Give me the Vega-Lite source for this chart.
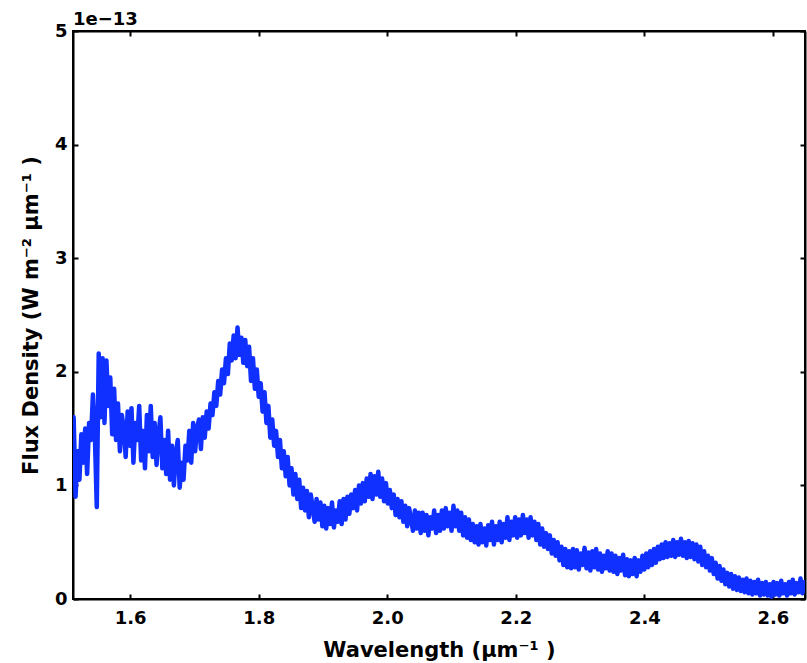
{
  "$schema": "https://vega.github.io/schema/vega-lite/v6.json",
  "width": 732,
  "height": 568,
  "autosize": {"type": "none"},
  "padding": {"left": 73, "top": 31, "right": 2, "bottom": 64},
  "background": "white",
  "title": {"text": "1e−13", "anchor": "start", "frame": "group", "font": "DejaVu Sans", "fontWeight": "bold", "fontSize": 18, "offset": -7, "color": "black"},
  "config": {
    "view": {"stroke": "black", "strokeWidth": 2},
    "axis": {
      "domainColor": "black", "domainWidth": 2, "tickColor": "black", "tickWidth": 2, "tickSize": -5,
      "labelFont": "DejaVu Sans", "labelFontWeight": "bold", "labelFontSize": 18, "labelColor": "black",
      "titleFont": "DejaVu Sans", "titleFontWeight": "bold", "titleFontSize": 21, "titleColor": "black",
      "grid": false
    }
  },
  "data": {"values": [
    {"w":1.512,"f":1.60},{"w":1.515,"f":0.90},{"w":1.518,"f":1.30},{"w":1.521,"f":1.05},{"w":1.524,"f":1.45},{"w":1.527,"f":1.20},{"w":1.530,"f":1.50},{"w":1.533,"f":1.10},{"w":1.536,"f":1.55},{"w":1.539,"f":1.40},
    {"w":1.542,"f":1.80},{"w":1.545,"f":1.45},{"w":1.548,"f":0.81},{"w":1.551,"f":2.16},{"w":1.554,"f":1.60},{"w":1.557,"f":2.12},{"w":1.560,"f":1.55},{"w":1.563,"f":2.10},{"w":1.566,"f":1.70},{"w":1.569,"f":1.95},
    {"w":1.572,"f":1.45},{"w":1.575,"f":1.85},{"w":1.578,"f":1.40},{"w":1.581,"f":1.72},{"w":1.584,"f":1.30},{"w":1.587,"f":1.62},{"w":1.590,"f":1.50},{"w":1.593,"f":1.25},{"w":1.596,"f":1.65},{"w":1.599,"f":1.35},
    {"w":1.602,"f":1.68},{"w":1.605,"f":1.20},{"w":1.608,"f":1.55},{"w":1.611,"f":1.40},{"w":1.614,"f":1.70},{"w":1.617,"f":1.22},{"w":1.620,"f":1.48},{"w":1.623,"f":1.15},{"w":1.626,"f":1.62},{"w":1.629,"f":1.30},
    {"w":1.632,"f":1.70},{"w":1.635,"f":1.25},{"w":1.638,"f":1.55},{"w":1.641,"f":1.18},{"w":1.644,"f":1.45},{"w":1.647,"f":1.60},{"w":1.650,"f":1.15},{"w":1.653,"f":1.40},{"w":1.656,"f":1.10},{"w":1.659,"f":1.48},
    {"w":1.662,"f":1.05},{"w":1.665,"f":1.35},{"w":1.668,"f":1.00},{"w":1.671,"f":1.28},{"w":1.674,"f":1.40},{"w":1.677,"f":0.98},{"w":1.680,"f":1.20},{"w":1.683,"f":1.05},{"w":1.686,"f":1.35},{"w":1.689,"f":1.22},
    {"w":1.692,"f":1.48},{"w":1.695,"f":1.20},{"w":1.698,"f":1.55},{"w":1.701,"f":1.30},{"w":1.704,"f":1.50},{"w":1.707,"f":1.58},{"w":1.710,"f":1.32},{"w":1.713,"f":1.60},{"w":1.716,"f":1.42},{"w":1.719,"f":1.65},
    {"w":1.722,"f":1.50},{"w":1.725,"f":1.72},{"w":1.728,"f":1.62},{"w":1.731,"f":1.82},{"w":1.734,"f":1.70},{"w":1.737,"f":1.92},{"w":1.740,"f":1.80},{"w":1.743,"f":2.02},{"w":1.746,"f":1.90},{"w":1.749,"f":2.12},
    {"w":1.752,"f":1.98},{"w":1.755,"f":2.25},{"w":1.758,"f":2.10},{"w":1.761,"f":2.32},{"w":1.764,"f":2.12},{"w":1.767,"f":2.39},{"w":1.770,"f":2.15},{"w":1.773,"f":2.30},{"w":1.776,"f":2.08},{"w":1.779,"f":2.28},
    {"w":1.782,"f":2.05},{"w":1.785,"f":2.22},{"w":1.788,"f":1.92},{"w":1.791,"f":2.12},{"w":1.794,"f":1.85},{"w":1.797,"f":2.02},{"w":1.800,"f":1.78},{"w":1.803,"f":1.90},{"w":1.806,"f":1.65},{"w":1.809,"f":1.82},
    {"w":1.812,"f":1.55},{"w":1.815,"f":1.70},{"w":1.818,"f":1.42},{"w":1.821,"f":1.58},{"w":1.824,"f":1.35},{"w":1.827,"f":1.48},{"w":1.830,"f":1.25},{"w":1.833,"f":1.40},{"w":1.836,"f":1.15},{"w":1.839,"f":1.30},
    {"w":1.842,"f":1.08},{"w":1.845,"f":1.25},{"w":1.848,"f":1.00},{"w":1.851,"f":1.15},{"w":1.854,"f":0.92},{"w":1.857,"f":1.10},{"w":1.860,"f":0.88},{"w":1.863,"f":1.05},{"w":1.866,"f":0.80},{"w":1.869,"f":0.98},
    {"w":1.872,"f":0.78},{"w":1.875,"f":0.95},{"w":1.878,"f":0.72},{"w":1.881,"f":0.92},{"w":1.884,"f":0.80},{"w":1.887,"f":0.68},{"w":1.890,"f":0.88},{"w":1.893,"f":0.70},{"w":1.896,"f":0.85},{"w":1.899,"f":0.64},
    {"w":1.902,"f":0.82},{"w":1.905,"f":0.62},{"w":1.908,"f":0.80},{"w":1.911,"f":0.66},{"w":1.914,"f":0.85},{"w":1.917,"f":0.63},{"w":1.920,"f":0.78},{"w":1.923,"f":0.68},{"w":1.926,"f":0.86},{"w":1.929,"f":0.66},
    {"w":1.932,"f":0.88},{"w":1.935,"f":0.70},{"w":1.938,"f":0.90},{"w":1.941,"f":0.75},{"w":1.944,"f":0.92},{"w":1.947,"f":0.80},{"w":1.950,"f":0.96},{"w":1.953,"f":0.78},{"w":1.956,"f":1.00},{"w":1.959,"f":0.84},
    {"w":1.962,"f":1.02},{"w":1.965,"f":0.86},{"w":1.968,"f":1.06},{"w":1.971,"f":0.90},{"w":1.974,"f":1.10},{"w":1.977,"f":0.88},{"w":1.980,"f":1.08},{"w":1.983,"f":0.92},{"w":1.986,"f":1.12},{"w":1.989,"f":0.90},
    {"w":1.992,"f":1.06},{"w":1.995,"f":0.86},{"w":1.998,"f":1.02},{"w":2.001,"f":0.84},{"w":2.004,"f":0.96},{"w":2.007,"f":0.80},{"w":2.010,"f":0.92},{"w":2.013,"f":0.74},{"w":2.016,"f":0.88},{"w":2.019,"f":0.72},
    {"w":2.022,"f":0.86},{"w":2.025,"f":0.68},{"w":2.028,"f":0.82},{"w":2.031,"f":0.64},{"w":2.034,"f":0.80},{"w":2.037,"f":0.70},{"w":2.040,"f":0.60},{"w":2.043,"f":0.78},{"w":2.046,"f":0.62},{"w":2.049,"f":0.76},
    {"w":2.052,"f":0.58},{"w":2.055,"f":0.76},{"w":2.058,"f":0.60},{"w":2.061,"f":0.74},{"w":2.064,"f":0.56},{"w":2.067,"f":0.72},{"w":2.070,"f":0.62},{"w":2.073,"f":0.78},{"w":2.076,"f":0.58},{"w":2.079,"f":0.74},
    {"w":2.082,"f":0.60},{"w":2.085,"f":0.78},{"w":2.088,"f":0.62},{"w":2.091,"f":0.80},{"w":2.094,"f":0.64},{"w":2.097,"f":0.76},{"w":2.100,"f":0.60},{"w":2.103,"f":0.82},{"w":2.106,"f":0.64},{"w":2.109,"f":0.78},
    {"w":2.112,"f":0.60},{"w":2.115,"f":0.76},{"w":2.118,"f":0.56},{"w":2.121,"f":0.72},{"w":2.124,"f":0.54},{"w":2.127,"f":0.70},{"w":2.130,"f":0.52},{"w":2.133,"f":0.66},{"w":2.136,"f":0.50},{"w":2.139,"f":0.64},
    {"w":2.142,"f":0.48},{"w":2.145,"f":0.66},{"w":2.148,"f":0.50},{"w":2.151,"f":0.62},{"w":2.154,"f":0.47},{"w":2.157,"f":0.65},{"w":2.160,"f":0.52},{"w":2.163,"f":0.68},{"w":2.166,"f":0.48},{"w":2.169,"f":0.64},
    {"w":2.172,"f":0.52},{"w":2.175,"f":0.68},{"w":2.178,"f":0.50},{"w":2.181,"f":0.66},{"w":2.184,"f":0.54},{"w":2.187,"f":0.72},{"w":2.190,"f":0.52},{"w":2.193,"f":0.68},{"w":2.196,"f":0.56},{"w":2.199,"f":0.72},
    {"w":2.202,"f":0.54},{"w":2.205,"f":0.70},{"w":2.208,"f":0.56},{"w":2.211,"f":0.74},{"w":2.214,"f":0.58},{"w":2.217,"f":0.70},{"w":2.220,"f":0.54},{"w":2.223,"f":0.72},{"w":2.226,"f":0.56},{"w":2.229,"f":0.68},
    {"w":2.232,"f":0.52},{"w":2.235,"f":0.66},{"w":2.238,"f":0.48},{"w":2.241,"f":0.62},{"w":2.244,"f":0.46},{"w":2.247,"f":0.58},{"w":2.250,"f":0.44},{"w":2.253,"f":0.56},{"w":2.256,"f":0.40},{"w":2.259,"f":0.52},
    {"w":2.262,"f":0.38},{"w":2.265,"f":0.50},{"w":2.268,"f":0.34},{"w":2.271,"f":0.46},{"w":2.274,"f":0.30},{"w":2.277,"f":0.44},{"w":2.280,"f":0.28},{"w":2.283,"f":0.42},{"w":2.286,"f":0.27},{"w":2.289,"f":0.44},
    {"w":2.292,"f":0.28},{"w":2.295,"f":0.43},{"w":2.298,"f":0.26},{"w":2.301,"f":0.40},{"w":2.304,"f":0.30},{"w":2.307,"f":0.45},{"w":2.310,"f":0.27},{"w":2.313,"f":0.41},{"w":2.316,"f":0.25},{"w":2.319,"f":0.42},
    {"w":2.322,"f":0.28},{"w":2.325,"f":0.44},{"w":2.328,"f":0.26},{"w":2.331,"f":0.40},{"w":2.334,"f":0.24},{"w":2.337,"f":0.38},{"w":2.340,"f":0.27},{"w":2.343,"f":0.42},{"w":2.346,"f":0.25},{"w":2.349,"f":0.40},
    {"w":2.352,"f":0.24},{"w":2.355,"f":0.38},{"w":2.358,"f":0.22},{"w":2.361,"f":0.36},{"w":2.364,"f":0.25},{"w":2.367,"f":0.39},{"w":2.370,"f":0.21},{"w":2.373,"f":0.35},{"w":2.376,"f":0.20},{"w":2.379,"f":0.34},
    {"w":2.382,"f":0.22},{"w":2.385,"f":0.36},{"w":2.388,"f":0.20},{"w":2.391,"f":0.34},{"w":2.394,"f":0.24},{"w":2.397,"f":0.38},{"w":2.400,"f":0.26},{"w":2.403,"f":0.40},{"w":2.406,"f":0.28},{"w":2.409,"f":0.42},
    {"w":2.412,"f":0.30},{"w":2.415,"f":0.44},{"w":2.418,"f":0.32},{"w":2.421,"f":0.46},{"w":2.424,"f":0.35},{"w":2.427,"f":0.48},{"w":2.430,"f":0.36},{"w":2.433,"f":0.50},{"w":2.436,"f":0.37},{"w":2.439,"f":0.49},
    {"w":2.442,"f":0.38},{"w":2.445,"f":0.52},{"w":2.448,"f":0.37},{"w":2.451,"f":0.50},{"w":2.454,"f":0.39},{"w":2.457,"f":0.53},{"w":2.460,"f":0.38},{"w":2.463,"f":0.50},{"w":2.466,"f":0.36},{"w":2.469,"f":0.51},
    {"w":2.472,"f":0.37},{"w":2.475,"f":0.49},{"w":2.478,"f":0.35},{"w":2.481,"f":0.48},{"w":2.484,"f":0.33},{"w":2.487,"f":0.46},{"w":2.490,"f":0.30},{"w":2.493,"f":0.42},{"w":2.496,"f":0.28},{"w":2.499,"f":0.38},
    {"w":2.502,"f":0.25},{"w":2.505,"f":0.36},{"w":2.508,"f":0.22},{"w":2.511,"f":0.32},{"w":2.514,"f":0.18},{"w":2.517,"f":0.29},{"w":2.520,"f":0.16},{"w":2.523,"f":0.26},{"w":2.526,"f":0.13},{"w":2.529,"f":0.23},
    {"w":2.532,"f":0.11},{"w":2.535,"f":0.22},{"w":2.538,"f":0.09},{"w":2.541,"f":0.20},{"w":2.544,"f":0.08},{"w":2.547,"f":0.19},{"w":2.550,"f":0.07},{"w":2.553,"f":0.17},{"w":2.556,"f":0.06},{"w":2.559,"f":0.18},
    {"w":2.562,"f":0.05},{"w":2.565,"f":0.16},{"w":2.568,"f":0.04},{"w":2.571,"f":0.15},{"w":2.574,"f":0.05},{"w":2.577,"f":0.17},{"w":2.580,"f":0.03},{"w":2.583,"f":0.14},{"w":2.586,"f":0.04},{"w":2.589,"f":0.15},
    {"w":2.592,"f":0.03},{"w":2.595,"f":0.13},{"w":2.598,"f":0.02},{"w":2.601,"f":0.15},{"w":2.604,"f":0.04},{"w":2.607,"f":0.14},{"w":2.610,"f":0.03},{"w":2.613,"f":0.16},{"w":2.616,"f":0.05},{"w":2.619,"f":0.13},
    {"w":2.622,"f":0.03},{"w":2.625,"f":0.15},{"w":2.628,"f":0.05},{"w":2.631,"f":0.17},{"w":2.634,"f":0.04},{"w":2.637,"f":0.14},{"w":2.640,"f":0.06},{"w":2.643,"f":0.18},{"w":2.646,"f":0.05},{"w":2.649,"f":0.15}
  ]},
  "layer": [
    {
      "mark": {"type": "line", "opacity": 0},
      "encoding": {
        "x": {"field": "w", "type": "quantitative", "scale": {"domain": [1.511, 2.65], "nice": false, "zero": false},
              "axis": {"orient": "top", "values": [1.6, 1.8, 2.0, 2.2, 2.4, 2.6], "labels": false, "title": null}},
        "y": {"field": "f", "type": "quantitative", "scale": {"domain": [0, 5], "nice": false},
              "axis": {"orient": "right", "values": [0, 1, 2, 3, 4, 5], "labels": false, "title": null}}
      }
    },
    {
      "mark": {"type": "line", "color": "#1030ff", "strokeWidth": 4.5, "strokeJoin": "round", "strokeCap": "round", "clip": true},
      "encoding": {
        "x": {"field": "w", "type": "quantitative",
              "axis": {"orient": "bottom", "values": [1.6, 1.8, 2.0, 2.2, 2.4, 2.6], "format": ".1f", "labelPadding": 15, "title": "Wavelength (μm⁻¹ )", "titlePadding": 12}},
        "y": {"field": "f", "type": "quantitative",
              "axis": {"orient": "left", "values": [0, 1, 2, 3, 4, 5], "format": "d", "labelPadding": 11, "title": "Flux Density (W m⁻² μm⁻¹ )", "titlePadding": 13}}
      }
    }
  ],
  "resolve": {"axis": {"x": "independent", "y": "independent"}}
}
